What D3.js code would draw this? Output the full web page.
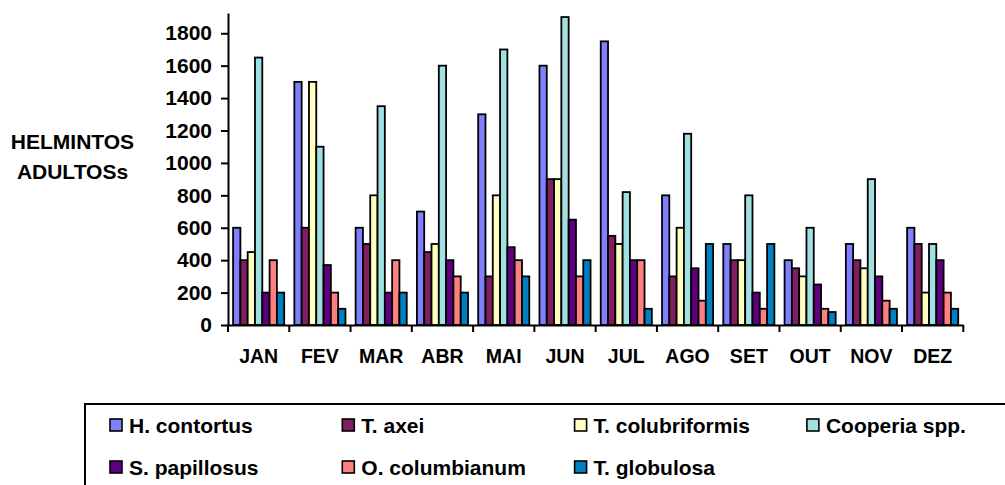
<!DOCTYPE html>
<html>
<head>
<meta charset="utf-8">
<script src="https://cdn.jsdelivr.net/npm/d3@7/dist/d3.min.js"></script>
<style>
  html, body { margin: 0; padding: 0; background: #fff; }
  svg { display: block; font-family: "Liberation Sans", Arial, sans-serif; font-weight: bold; }
</style>
</head>
<body>
<svg id="chart" width="1005" height="485"></svg>
<script>
// Monthly counts of adult helminths per species
const months = ["JAN", "FEV", "MAR", "ABR", "MAI", "JUN", "JUL", "AGO", "SET", "OUT", "NOV", "DEZ"];
const species = ["H. contortus", "T. axei", "T. colubriformis", "Cooperia spp.", "S. papillosus", "O. columbianum", "T. globulosa"];
const colors = ["#8080FF", "#7F1F60", "#FFFFC0", "#A0E0E0", "#600080", "#FF8080", "#0080C0"];

const hContortus     = [600, 1500, 600, 700, 1300, 1600, 1750, 800, 500, 400, 500, 600];
const tAxei          = [400, 600, 500, 450, 300, 900, 550, 300, 400, 350, 400, 500];
const tColubriformis = [450, 1500, 800, 500, 800, 900, 500, 600, 400, 300, 350, 200];
const cooperia       = [1650, 1100, 1350, 1600, 1700, 1900, 820, 1180, 800, 600, 900, 500];
const sPapillosus    = [200, 370, 200, 400, 480, 650, 400, 350, 200, 250, 300, 400];
const oColumbianum   = [400, 200, 400, 300, 400, 300, 400, 150, 100, 100, 150, 200];
const tGlobulosa     = [200, 100, 200, 200, 300, 400, 100, 500, 500, 80, 100, 100];

const yTicks = [0, 200, 400, 600, 800, 1000, 1200, 1400, 1600, 1800];

const seriesValues = [hContortus, tAxei, tColubriformis, cooperia, sPapillosus, oColumbianum, tGlobulosa];

const svg = d3.select("#chart");

const plotLeft = 228, plotRight = 963.3, plotBottom = 325, plotTop = 13;

const x = d3.scaleBand().domain(months).range([plotLeft, plotRight]).paddingInner(0).paddingOuter(0);
const bw = x.bandwidth();
const xs = d3.scaleBand().domain(d3.range(species.length)).range([bw * 0.083, bw * 0.917]).padding(0);
const y = d3.scaleLinear().domain([0, 1925]).range([plotBottom, plotTop]);

// bars
const groups = svg.append("g").selectAll("g")
  .data(months)
  .join("g")
  .attr("transform", d => `translate(${x(d)},0)`);

groups.selectAll("rect")
  .data((m, mi) => seriesValues.map((vals, si) => ({ si, v: vals[mi] })))
  .join("rect")
  .attr("x", d => xs(d.si))
  .attr("width", xs.bandwidth())
  .attr("y", d => y(d.v))
  .attr("height", d => plotBottom - y(d.v))
  .attr("fill", d => colors[d.si])
  .attr("stroke", "#000")
  .attr("stroke-width", 1.8);

// y axis
const yAxis = svg.append("g")
  .attr("transform", `translate(${plotLeft},0)`)
  .call(d3.axisLeft(y).tickValues(yTicks).tickFormat(d3.format("d")).tickSize(7).tickPadding(9).tickSizeOuter(0));
yAxis.select(".domain").attr("stroke", "#000").attr("stroke-width", 2);
yAxis.selectAll(".tick line").attr("stroke", "#000").attr("stroke-width", 2);
yAxis.selectAll(".tick text")
  .attr("fill", "#000")
  .style("font-size", "21px")
  .style("font-weight", "bold")
  .style("font-family", "'Liberation Sans', Arial, sans-serif");

// x axis: labels centred on each month, ticks on the band boundaries
const xAxis = svg.append("g")
  .attr("transform", `translate(0,${plotBottom})`)
  .call(d3.axisBottom(x).tickSize(0).tickPadding(24).tickSizeOuter(0));
xAxis.select(".domain").attr("stroke", "#000").attr("stroke-width", 2);
xAxis.selectAll(".tick text")
  .attr("fill", "#000")
  .style("font-size", "19.5px")
  .style("font-weight", "bold")
  .style("font-family", "'Liberation Sans', Arial, sans-serif");

const boundaries = months.map(m => x(m)).concat([x(months[months.length - 1]) + bw]);
svg.append("g").selectAll("line")
  .data(boundaries)
  .join("line")
  .attr("x1", d => d).attr("x2", d => d)
  .attr("y1", plotBottom).attr("y2", plotBottom + 7)
  .attr("stroke", "#000").attr("stroke-width", 2);

// y axis title
const title = svg.append("text")
  .attr("text-anchor", "middle")
  .style("font-size", "21px")
  .attr("fill", "#000");
title.append("tspan").attr("x", 72.5).attr("y", 149).text("HELMINTOS");
title.append("tspan").attr("x", 72.5).attr("y", 179).text("ADULTOSs");

// legend
svg.append("rect")
  .attr("x", 85).attr("y", 404)
  .attr("width", 940).attr("height", 100)
  .attr("fill", "#fff").attr("stroke", "#000").attr("stroke-width", 2);

const legendCols = 4, colStep = 232.3;
const legend = svg.append("g").selectAll("g")
  .data(species)
  .join("g")
  .attr("transform", (d, i) => `translate(${110 + (i % legendCols) * colStep},${425 + Math.floor(i / legendCols) * 42})`);

legend.append("rect")
  .attr("x", 0).attr("y", -6)
  .attr("width", 12).attr("height", 12)
  .attr("fill", (d, i) => colors[i])
  .attr("stroke", "#000").attr("stroke-width", 1.6);

legend.append("text")
  .attr("x", 19).attr("y", 0).attr("dy", "0.36em")
  .style("font-size", "21px")
  .attr("fill", "#000")
  .text(d => d);
</script>
</body>
</html>
